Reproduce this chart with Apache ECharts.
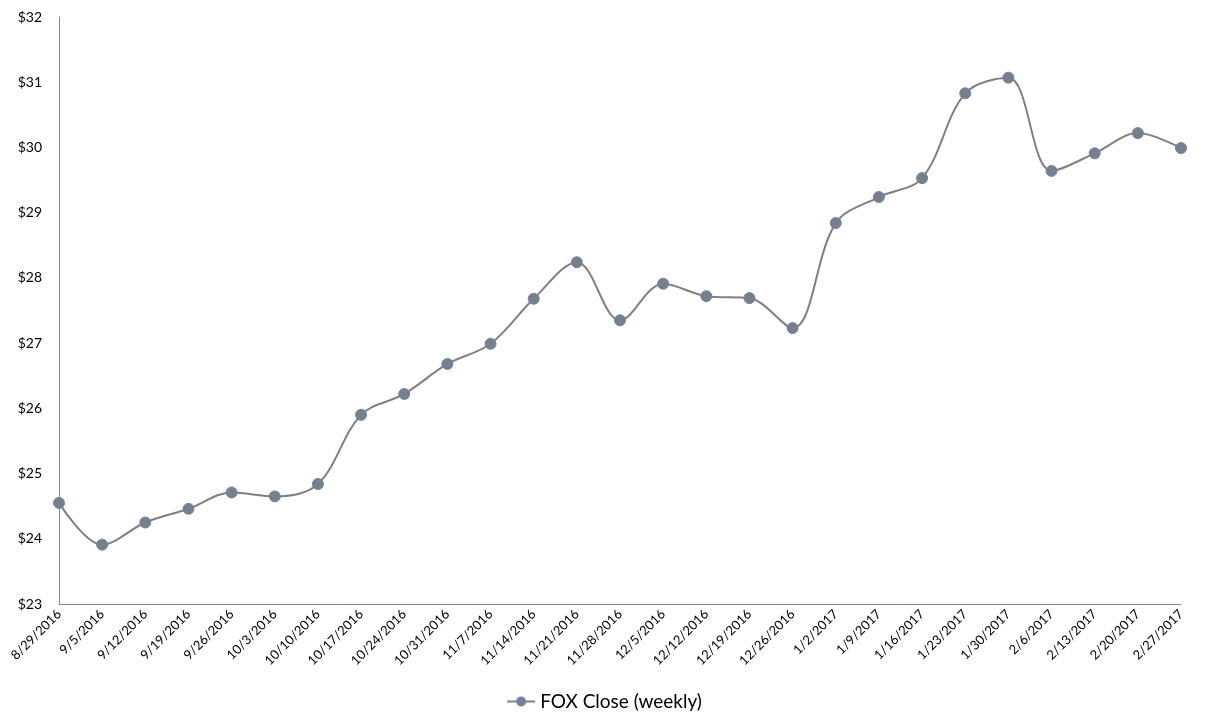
<!DOCTYPE html>
<html>
<head>
<meta charset="utf-8">
<script src="https://cdn.jsdelivr.net/npm/echarts@6/dist/echarts.min.js"></script>
<style>html,body{margin:0;padding:0;background:#fff;}#c{width:1208px;height:728px;}</style>
</head>
<body>
<div id="c"></div>
<script>
var categories = ["8/29/2016","9/5/2016","9/12/2016","9/19/2016","9/26/2016","10/3/2016","10/10/2016","10/17/2016","10/24/2016","10/31/2016","11/7/2016","11/14/2016","11/21/2016","11/28/2016","12/5/2016","12/12/2016","12/19/2016","12/26/2016","1/2/2017","1/9/2017","1/16/2017","1/23/2017","1/30/2017","2/6/2017","2/13/2017","2/20/2017","2/27/2017"];
var closeValues = [24.55,23.91,24.25,24.46,24.71,24.65,24.84,25.90,26.22,26.68,26.99,27.68,28.24,27.35,27.91,27.72,27.69,27.23,28.84,29.24,29.53,30.83,31.07,29.64,29.91,30.22,29.99];
var seriesName = "FOX Close (weekly)";
var yMin = 23, yMax = 32, yStep = 1;

var chart = echarts.init(document.getElementById('c'));
var font = 'Lato, "Open Sans", sans-serif';
chart.setOption({
  animation: false,
  backgroundColor: '#ffffff',
  grid: {left: 59, right: 27, top: 17, bottom: 124, containLabel: false},
  legend: {
    bottom: 12, left: 'center',
    itemWidth: 28, itemHeight: 10,
    textStyle: {fontFamily: font, fontSize: 19, color: '#000'},
    data: [seriesName]
  },
  xAxis: {
    type: 'category', data: categories, boundaryGap: false,
    axisLine: {lineStyle: {color: '#868686', width: 1}},
    axisTick: {show: false},
    axisLabel: {rotate: 45, interval: 0, fontFamily: font, fontSize: 13, color: '#000', margin: 8},
    splitLine: {show: false}
  },
  yAxis: {
    type: 'value', min: yMin, max: yMax, interval: yStep,
    axisLine: {show: true, lineStyle: {color: '#868686', width: 1}},
    axisTick: {show: false},
    axisLabel: {formatter: function(v){return '$' + v;}, fontFamily: font, fontSize: 14, color: '#000', margin: 17},
    splitLine: {show: false}
  },
  series: [{
    name: seriesName, type: 'line', data: closeValues,
    smooth: 0.35,
    symbol: 'circle', symbolSize: 11,
    lineStyle: {color: '#808080', width: 2},
    itemStyle: {color: '#777f8b', borderColor: '#6f86a6', borderWidth: 1}
  }]
});
</script>
</body>
</html>
